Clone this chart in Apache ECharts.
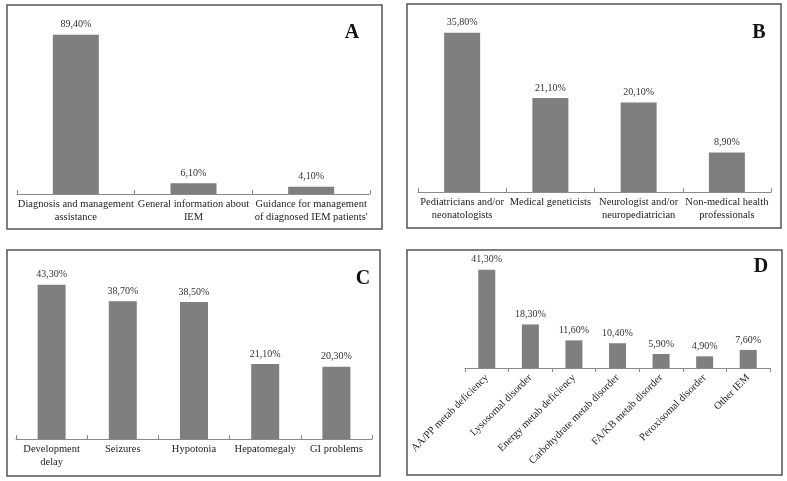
<!DOCTYPE html>
<html>
<head>
<meta charset="utf-8">
<script src="https://cdn.jsdelivr.net/npm/echarts@6/dist/echarts.min.js"></script>
<style>html,body{margin:0;padding:0;background:#fff;}#c{width:787px;height:481px;}</style>
</head>
<body>
<div id="c"></div>
<script>
var catA = ['Diagnosis and management\nassistance', 'General information about\nIEM', "Guidance for management\nof diagnosed IEM patients'"];
var valA = [89.4, 6.1, 4.1];
var catB = ['Pediatricians and/or\nneonatologists', 'Medical geneticists', 'Neurologist and/or\nneuropediatrician', 'Non-medical health\nprofessionals'];
var valB = [35.8, 21.1, 20.1, 8.9];
var catC = ['Development\ndelay', 'Seizures', 'Hypotonia', 'Hepatomegaly', 'GI problems'];
var valC = [43.3, 38.7, 38.5, 21.1, 20.3];
var catD = ['AA/PP metab deficiency', 'Lysosomal disorder', 'Energy metab deficiency', 'Carbohydrate metab disorder', 'FA/KB metab disorder', 'Peroxisomal disorder', 'Other IEM'];
var valD = [41.3, 18.3, 11.6, 10.4, 5.9, 4.9, 7.6];
var panelNames = ['A', 'B', 'C', 'D'];

var FONT = 'Liberation Serif, Times New Roman, serif';
function pct(p) { return p.value.toFixed(2).replace('.', ',') + '%'; }

function xAx(i, cats, rot) {
  return {
    type: 'category', gridIndex: i, data: cats,
    axisLine: { lineStyle: { color: '#8a8a8a', width: 1 } },
    axisTick: { show: true, inside: !rot, length: 4, lineStyle: { color: '#8a8a8a' } },
    axisLabel: {
      interval: 0, fontFamily: FONT, fontSize: 10.5, color: '#222',
      lineHeight: 13, margin: rot ? 8 : 4, rotate: rot || 0
    }
  };
}
function yAx(i, max) {
  return { type: 'value', gridIndex: i, min: 0, max: max, show: false, splitLine: { show: false } };
}
function ser(i, vals, bw) {
  return {
    type: 'bar', xAxisIndex: i, yAxisIndex: i, data: vals, barWidth: bw,
    itemStyle: { color: '#7f7f7f' },
    label: { show: true, position: 'top', distance: 5, formatter: pct, fontFamily: FONT, fontSize: 10, color: '#333' }
  };
}
function box(x, y, w, h) {
  return { type: 'rect', shape: { x: x, y: y, width: w, height: h }, style: { fill: 'none', stroke: '#555', lineWidth: 1.5 }, silent: true };
}
function letter(t, x, y) {
  return { type: 'text', x: x, y: y, style: { text: t, font: 'bold 20px ' + FONT, fill: '#111', align: 'center', verticalAlign: 'middle' } };
}

var chart = echarts.init(document.getElementById('c'), null, { renderer: 'canvas' });
chart.setOption({
  animation: false,
  backgroundColor: '#fff',
  grid: [
    { left: 17, top: 16, width: 353, height: 178 },
    { left: 418, top: 14, width: 353, height: 178 },
    { left: 16, top: 261, width: 356, height: 178 },
    { left: 465, top: 249, width: 305, height: 119 }
  ],
  xAxis: [xAx(0, catA), xAx(1, catB), xAx(2, catC), xAx(3, catD, 45)],
  yAxis: [yAx(0, 100), yAx(1, 40), yAx(2, 50), yAx(3, 50)],
  series: [ser(0, valA, 46), ser(1, valB, 36), ser(2, valC, 28), ser(3, valD, 17)],
  graphic: [
    box(7, 5, 375, 224), box(407, 4, 374, 224), box(7, 250, 373, 226), box(407, 250, 375, 225),
    letter(panelNames[0], 352, 33), letter(panelNames[1], 759, 33),
    letter(panelNames[2], 363, 279), letter(panelNames[3], 761, 267)
  ]
});
</script>
</body>
</html>
